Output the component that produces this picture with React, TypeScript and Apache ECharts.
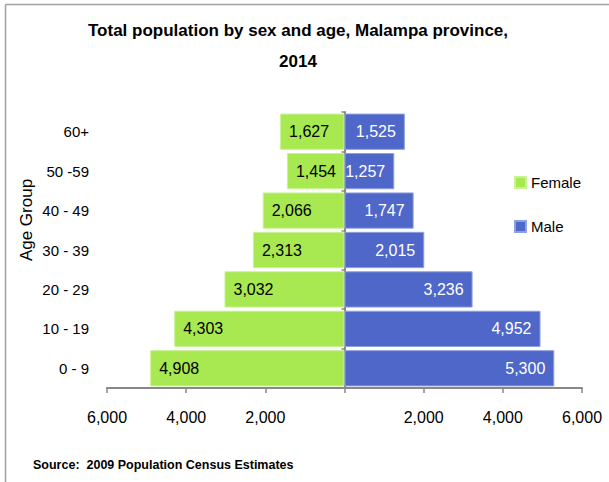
import React, { useEffect, useRef } from "react";
import * as echarts from "echarts";

const ageGroups = ["0 - 9", "10 - 19", "20 - 29", "30 - 39", "40 - 49", "50 -59", "60+"];
const female = [4908, 4303, 3032, 2313, 2066, 1454, 1627];
const male = [5300, 4952, 3236, 2015, 1747, 1257, 1525];
const xTicks = { min: -6000, max: 6000, interval: 2000 };

const FONT = "'Liberation Sans', Arial, sans-serif";
const fmt = (v: number) => Math.abs(v).toLocaleString("en-US");

export default function App() {
  const ref = useRef<HTMLDivElement>(null);

  useEffect(() => {
    if (!ref.current) return;
    const chart = echarts.init(ref.current, undefined, { renderer: "svg" });
    chart.setOption({
      animation: false,
      backgroundColor: "#ffffff",
      textStyle: { fontFamily: FONT },
      title: {
        text: "Total population by sex and age, Malampa province,\n2014",
        left: 298,
        textAlign: "center",
        top: 15,
        padding: 0,
        textStyle: {
          fontFamily: FONT,
          fontWeight: "bold",
          fontSize: 17,
          lineHeight: 31,
          color: "#000",
        },
      },
      legend: {
        orient: "vertical",
        left: 514,
        top: 175,
        padding: 0,
        itemWidth: 11,
        itemHeight: 11,
        itemGap: 29,
        icon: "rect",
        textStyle: { fontFamily: FONT, fontSize: 15, color: "#000" },
        data: ["Female", "Male"],
      },
      grid: { left: 107, right: 27, top: 112, bottom: 94, outerBoundsMode: "none", containLabel: false },
      xAxis: {
        type: "value",
        min: xTicks.min,
        max: xTicks.max,
        interval: xTicks.interval,
        splitLine: { show: false },
        axisLine: { show: true, lineStyle: { color: "#888", width: 2 } },
        axisTick: { show: true, length: 5, lineStyle: { color: "#888", width: 1.5 } },
        axisLabel: {
          margin: 21,
          fontFamily: FONT,
          fontSize: 16,
          color: "#000",
          formatter: (v: number) => (v === 0 ? "" : fmt(v)),
        },
      },
      yAxis: {
        type: "category",
        data: ageGroups,
        axisLine: { show: true, onZero: true, lineStyle: { color: "#888", width: 2 } },
        axisTick: { show: true, length: 3, lineStyle: { color: "#888", width: 1.5 } },
        axisLabel: {
          margin: 18,
          fontFamily: FONT,
          fontSize: 15,
          color: "#000",
        },
      },
      series: [
        {
          name: "Female",
          type: "bar",
          data: female.map((v) => -v),
          barGap: "-100%",
          barCategoryGap: "8%",
          itemStyle: { color: "#a8e850", borderColor: "#c9f294", borderWidth: 1 },
          label: {
            show: true,
            position: "insideLeft",
            distance: 9,
            fontFamily: FONT,
            fontSize: 16,
            color: "#000",
            formatter: (p: any) => fmt(p.value),
          },
        },
        {
          name: "Male",
          type: "bar",
          data: male,
          barGap: "-100%",
          barCategoryGap: "8%",
          itemStyle: { color: "#4f67c8", borderColor: "#8fa0e0", borderWidth: 1 },
          label: {
            show: true,
            position: "insideRight",
            distance: 9,
            fontFamily: FONT,
            fontSize: 16,
            color: "#fff",
            formatter: (p: any) => fmt(p.value),
          },
        },
      ],
      graphic: [
        {
          type: "line",
          shape: { x1: 5.5, y1: 4.5, x2: 609, y2: 4.5 },
          style: { stroke: "#a0a0a0", lineWidth: 1.5 },
        },
        {
          type: "line",
          shape: { x1: 5.5, y1: 4.5, x2: 5.5, y2: 482 },
          style: { stroke: "#a0a0a0", lineWidth: 1.5 },
        },
        {
          type: "text",
          x: 26,
          y: 220,
          rotation: Math.PI / 2,
          style: {
            text: "Age Group",
            fontFamily: FONT,
            fontSize: 17,
            fill: "#000",
            align: "center",
            verticalAlign: "middle",
          },
        },
        {
          type: "text",
          left: 33,
          top: 458,
          style: {
            text: "Source:  2009 Population Census Estimates",
            fontFamily: FONT,
            fontSize: 12.5,
            fontWeight: "bold",
            fill: "#000",
          },
        },
      ],
    });
    return () => chart.dispose();
  }, []);

  return <div ref={ref} style={{ width: 609, height: 482, position: "absolute", left: 0, top: 0 }} />;
}
